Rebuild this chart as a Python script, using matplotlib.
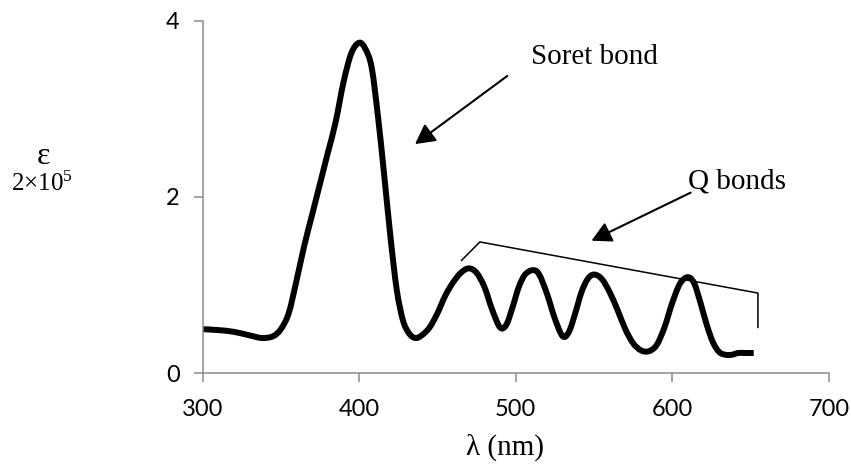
import numpy as np
import matplotlib
matplotlib.use('Agg')
import matplotlib.pyplot as plt
from matplotlib.path import Path
from matplotlib.patches import PathPatch

# absorption spectrum (wavelength in nm, epsilon / 2x10^5)
wavelength = [300, 310, 320, 330, 338, 345, 350, 355, 360, 365, 370, 375, 380, 385,
              390, 395, 400, 404, 408, 412, 416, 420, 424, 428, 432, 436, 440, 445,
              450, 455, 460, 465, 470, 475, 480, 485, 490, 494, 498, 502, 506, 511,
              515, 520, 525, 530, 534, 538, 542, 546, 550, 555, 560, 565, 570, 575,
              580, 585, 590, 595, 600, 605, 610, 614, 618, 622, 626, 630, 634, 638,
              642, 646, 652]
epsilon = [0.50, 0.49, 0.47, 0.43, 0.40, 0.42, 0.50, 0.68, 1.05, 1.45, 1.80, 2.15, 2.50, 2.85,
           3.30, 3.63, 3.75, 3.68, 3.47, 2.92, 2.25, 1.55, 0.95, 0.60, 0.45, 0.40, 0.43, 0.52,
           0.68, 0.88, 1.03, 1.14, 1.19, 1.14, 0.98, 0.72, 0.52, 0.55, 0.75, 0.98, 1.12, 1.17,
           1.12, 0.90, 0.62, 0.42, 0.47, 0.68, 0.92, 1.07, 1.12, 1.07, 0.92, 0.72, 0.50, 0.34,
           0.26, 0.25, 0.32, 0.52, 0.80, 1.02, 1.09, 1.02, 0.80, 0.55, 0.35, 0.24, 0.21, 0.21,
           0.23, 0.23, 0.23]

x_ticks = [300, 400, 500, 600, 700]
y_ticks = [0, 2, 4]

# bracket over the Q bands
bracket_x = [465.4, 477.1, 654.7, 654.7]
bracket_y = [1.28, 1.49, 0.91, 0.52]


def smooth_path(xs, ys):
    # Excel-style smoothed line: cubic bezier segments through the points
    p = np.column_stack([xs, ys]).astype(float)
    verts = [p[0]]
    codes = [Path.MOVETO]
    n = len(p)
    for i in range(n - 1):
        p0 = p[i - 1] if i > 0 else p[i]
        p3 = p[i + 2] if i + 2 < n else p[i + 1]
        c1 = p[i] + (p[i + 1] - p0) / 6
        c2 = p[i + 1] - (p3 - p[i]) / 6
        verts += [c1, c2, p[i + 1]]
        codes += [Path.CURVE4] * 3
    return Path(verts, codes)


serif = 'Liberation Serif'
plt.rcParams['mathtext.fontset'] = 'custom'
plt.rcParams['mathtext.rm'] = serif
plt.rcParams['mathtext.it'] = serif

fig = plt.figure(figsize=(8.51, 4.66), dpi=100)
ax = fig.add_axes([0.238, 0.199, 0.974 - 0.238, 0.9556 - 0.199])

curve = PathPatch(smooth_path(wavelength, epsilon), facecolor='none', edgecolor='black',
                  lw=4.3, joinstyle='round', capstyle='butt')
ax.add_patch(curve)
ax.plot(bracket_x, bracket_y, color='black', lw=1.1)

ax.set_xlim(300, 700)
ax.set_ylim(0, 4)
ax.set_xticks(x_ticks)
ax.set_yticks(y_ticks)

for s in ['top', 'right']:
    ax.spines[s].set_visible(False)
for s in ['left', 'bottom']:
    ax.spines[s].set_color('#8c8c8c')
    ax.spines[s].set_linewidth(1.1)
ax.tick_params(axis='both', direction='out', length=6.5, width=1.1, color='#8c8c8c',
               labelsize=17)
ax.tick_params(axis='y', pad=10)
ax.tick_params(axis='x', pad=12)
for lab in ax.get_xticklabels() + ax.get_yticklabels():
    lab.set_family('Lato')

ax.set_xlabel('λ (nm)', family=serif, fontsize=21)
ax.xaxis.set_label_coords(0.483, -0.17)

fig.text(43 / 851, 1 - 157 / 466, 'ε', family=serif, fontsize=23, ha='center', va='center')
fig.text(42 / 851, 1 - 184 / 466, r'2×10$^{5}$', family=serif, fontsize=18, ha='center', va='center')

arrow = dict(arrowstyle='-|>,head_length=0.6,head_width=0.32', color='black', lw=1.5,
             mutation_scale=20, shrinkA=0, shrinkB=0)
ax.annotate('', xy=(435.7, 2.60), xytext=(494.6, 3.373), arrowprops=arrow)
ax.annotate('', xy=(548.4, 1.504), xytext=(611.7, 2.049), arrowprops=arrow)
ax.text(510.0, 3.59, 'Soret bond', family=serif, fontsize=21, va='center', ha='left')
ax.text(609.9, 2.18, 'Q bonds', family=serif, fontsize=21, va='center', ha='left')

fig.savefig('out.png', dpi=100)
